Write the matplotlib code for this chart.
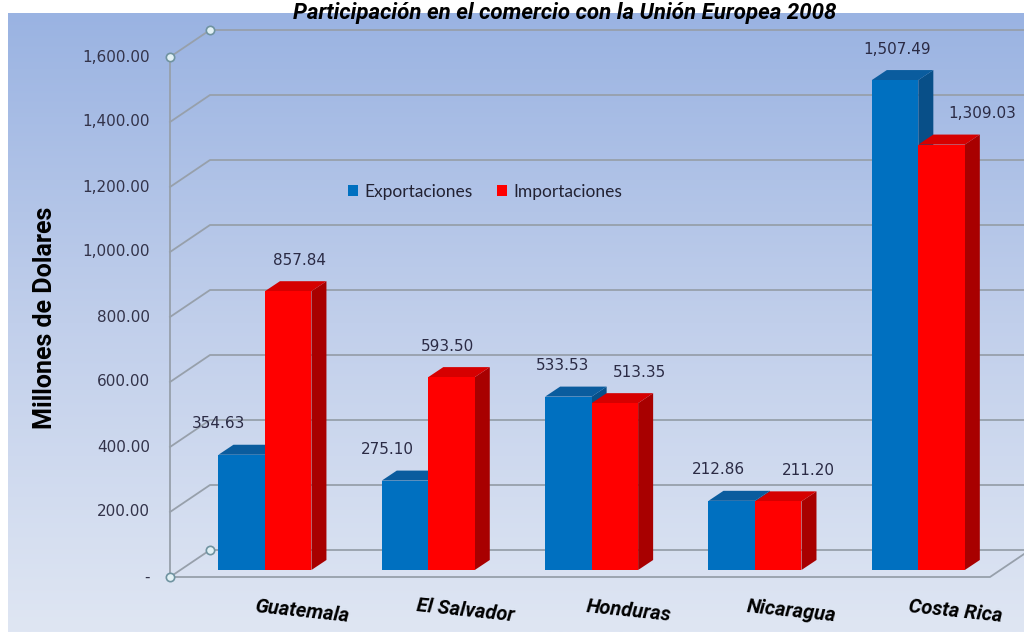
import numpy as np
import matplotlib
matplotlib.use('Agg')
import matplotlib.pyplot as plt
from matplotlib.patches import Polygon, Patch
from matplotlib.colors import LinearSegmentedColormap

# ---- data ----
categories = ['Guatemala', 'El Salvador', 'Honduras', 'Nicaragua', 'Costa Rica']
exportaciones = [354.63, 275.10, 533.53, 212.86, 1507.49]
importaciones = [857.84, 593.50, 513.35, 211.20, 1309.03]
series_names = ['Exportaciones', 'Importaciones']
yticks = [0, 200, 400, 600, 800, 1000, 1200, 1400, 1600]
ytick_labels = ['-', '200.00', '400.00', '600.00', '800.00', '1,000.00',
                '1,200.00', '1,400.00', '1,600.00']
title = 'Participación en el comercio con la Unión Europea 2008'
ylabel = 'Millones de Dolares'

# ---- style ----
front_cols = ['#0070c0', '#ff0000']
top_cols = ['#0a5c9e', '#d60000']
side_cols = ['#084f88', '#a80000']
label_dx = [[-23, -18, -6, -13, 2], [11, -4, 25, 30, 41]]  # pixel nudges of value labels
grid_col = '#97a0ab'
bold_font = ['Roboto', 'DejaVu Sans']

W, H = 1024, 632
fig = plt.figure(figsize=(W / 100, H / 100), dpi=100)
fig.patch.set_facecolor('white')

# background gradient
bg = fig.add_axes([8 / W, 0, 1 - 8 / W, (H - 13) / H])
grad = np.linspace(0, 1, 256).reshape(-1, 1)
cmap = LinearSegmentedColormap.from_list('bg', ['#dfe6f3', '#c1cfeb', '#9ab3e2'])
bg.imshow(grad, aspect='auto', cmap=cmap, origin='lower', extent=[0, 1, 0, 1])
bg.axis('off')

# main axes (front plane)
ax = fig.add_axes([170 / W, 55 / H, 820 / W, 520 / H])
x0, x1 = -0.52, 4.5
ax.set_xlim(x0, x1)
ax.set_ylim(0, 1600)
ax.axis('off')
ax.patch.set_alpha(0)

px_x = 820 / (x1 - x0)
px_y = 520 / 1600
DX, DY = 40 / px_x, 27 / px_y      # back wall depth
BX, BY = 10 / px_x, 7 / px_y       # bar front offset
DXb, DYb = 15 / px_x, 10 / px_y    # bar depth
w = 46.5 / px_x

# back wall gridlines + diagonals
for v, lab in zip(yticks, ytick_labels):
    ax.plot([x0, x0 + DX, 7], [v, v + DY, v + DY], color=grid_col, lw=1.3,
            clip_on=False, zorder=1)
    ax.text(x0 - 20 / px_x, v, lab, ha='right', va='center', fontsize=11,
            family='DejaVu Sans', color='#33334a', clip_on=False)

# front axis and floor front edge
ax.plot([x0, x0], [0, 1600], color=grid_col, lw=1.3, clip_on=False, zorder=1)
ax.plot([x0, x1, x1 + DX], [0, 0, DY], color=grid_col, lw=1.3, clip_on=False, zorder=1)
ax.plot([x0, x0 + DX, x0, x0 + DX], [0, DY, 1600, 1600 + DY], 'o', ms=6,
        mfc='#e2f1f5', mec='#6f93a0', mew=1.2, clip_on=False, zorder=2)

# bars
for i in range(len(categories)):
    for s, vals in enumerate([exportaciones, importaciones]):
        v = vals[i]
        L = i - w + s * w + BX
        T = v + BY
        side = Polygon([(L + w, BY), (L + w + DXb, BY + DYb), (L + w + DXb, T + DYb), (L + w, T)],
                       closed=True, facecolor=side_cols[s], edgecolor='none', zorder=3)
        top = Polygon([(L, T), (L + w, T), (L + w + DXb, T + DYb), (L + DXb, T + DYb)],
                      closed=True, facecolor=top_cols[s], edgecolor='none', zorder=3)
        ax.add_patch(side)
        ax.add_patch(top)
        ax.bar(L, v, width=w, bottom=BY, align='edge', color=front_cols[s],
               linewidth=0, zorder=3)
        ax.text(L + w / 2 + label_dx[s][i] / px_x, T + 31 / px_y, f'{v:,.2f}',
                ha='center', va='center', fontsize=11, family='DejaVu Sans',
                color='#2b2b45', zorder=4)
    ax.text(i + BX + 37 / px_x, -34 / px_y, categories[i], ha='center', va='center',
            rotation=-6, fontsize=14.5, fontweight='bold', fontstyle='italic',
            family=bold_font, color='black', clip_on=False)

# legend
handles = [Patch(facecolor=front_cols[k], edgecolor='none', label=series_names[k]) for k in range(2)]
leg = fig.legend(handles=handles, loc='center', bbox_to_anchor=(485 / W, 1 - 192 / H),
                 ncol=2, frameon=False, handlelength=0.6, handleheight=0.6,
                 handletextpad=0.35, columnspacing=1.4,
                 prop={'family': 'Lato', 'size': 12.5})
for t in leg.get_texts():
    t.set_color('#222233')

# y label and title
fig.text(45 / W, 1 - 318 / H, ylabel, rotation=90, ha='center', va='center',
         fontsize=18, fontweight='bold', family=bold_font, color='black')
fig.text(565 / W, 1 - 2 / H, title, ha='center', va='top', fontsize=16,
         fontweight='bold', fontstyle='italic', family=bold_font, color='black',
         zorder=10)

fig.savefig('out.png', dpi=100)
